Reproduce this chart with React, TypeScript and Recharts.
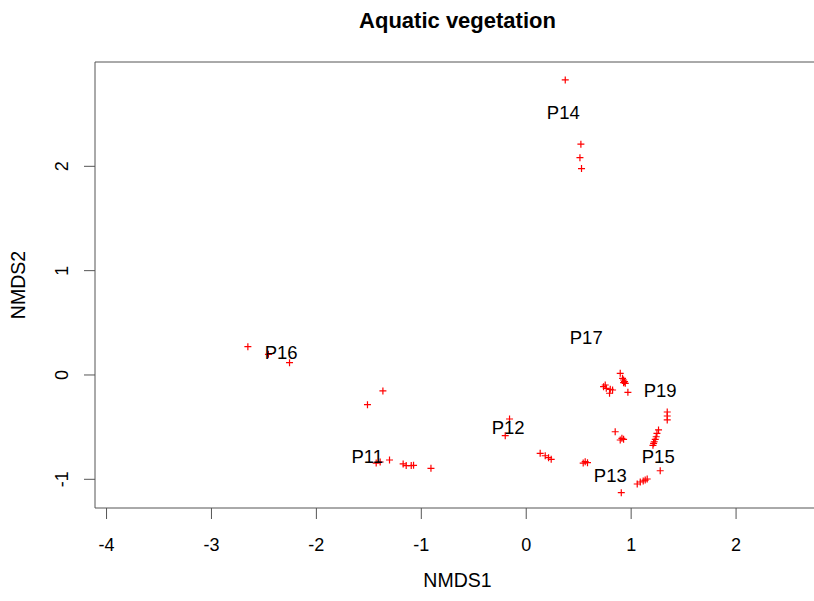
import React from 'react';
import { ScatterChart, Scatter, XAxis, YAxis, ReferenceArea } from 'recharts';

// site scores, grouped by plot id
const p14 = [[0.372, 2.828], [0.521, 2.212], [0.512, 2.083], [0.527, 1.978]];
const p16 = [[-2.653, 0.271], [-2.457, 0.198], [-2.256, 0.118]];
const p11 = [
  [-1.366, -0.153], [-1.513, -0.285], [-1.43, -0.844], [-1.392, -0.834],
  [-1.303, -0.815], [-1.173, -0.853], [-1.144, -0.868], [-1.096, -0.868],
  [-1.074, -0.866], [-0.908, -0.895],
];
const p12 = [
  [-0.159, -0.422], [-0.2, -0.582], [0.133, -0.751], [0.181, -0.774],
  [0.213, -0.793], [0.238, -0.808],
];
const p19 = [
  [0.896, 0.016], [0.918, -0.032], [0.928, -0.048], [0.937, -0.064],
  [0.944, -0.08], [0.928, -0.074], [0.753, -0.096], [0.737, -0.112],
  [0.763, -0.128], [0.801, -0.137], [0.823, -0.144], [0.794, -0.175],
  [0.969, -0.166], [1.344, -0.355], [1.344, -0.393], [1.344, -0.431],
];
const p15 = [
  [1.261, -0.527], [1.246, -0.559], [1.239, -0.592], [1.23, -0.617],
  [1.22, -0.64], [1.214, -0.655], [1.208, -0.674], [0.848, -0.544],
  [0.912, -0.607], [0.896, -0.623], [0.928, -0.617], [1.277, -0.918],
];
const p13 = [
  [0.543, -0.844], [0.562, -0.831], [0.584, -0.841], [1.058, -1.045],
  [1.087, -1.026], [1.115, -1.016], [1.134, -1.007], [1.153, -0.997],
  [0.906, -1.128],
];

const labelNames = ['P14', 'P16', 'P11', 'P12', 'P17', 'P19', 'P15', 'P13'];
const labelX = [0.353, -2.336, -1.516, -0.172, 0.572, 1.277, 1.258, 0.801];
const labelY = [2.52, 0.22, -0.786, -0.508, 0.355, -0.153, -0.786, -0.968];

const xTicks = [-4, -3, -2, -1, 0, 1, 2];
const yTicks = [-1, 0, 1, 2];
const X_DOMAIN: [number, number] = [-4.11, 2.8];
const Y_DOMAIN: [number, number] = [-1.275, 3.0];

const FONT = '"Liberation Sans", Arial, sans-serif';

const points = [...p14, ...p16, ...p11, ...p12, ...p19, ...p15, ...p13].map(([x, y]) => ({ x, y }));
const labels = labelNames.map((name, i) => ({ x: labelX[i], y: labelY[i], name }));

// red "+" like R's pch = 3
const Cross = (props: any) => {
  const { cx, cy } = props;
  if (cx == null || cy == null) return null;
  const r = 3.5;
  return (
    <path
      d={`M${cx - r},${cy}H${cx + r}M${cx},${cy - r}V${cy + r}`}
      stroke="#ff0000"
      strokeWidth={1.2}
      fill="none"
    />
  );
};

const SiteLabel = (props: any) => {
  const { cx, cy, payload } = props;
  if (cx == null || cy == null) return null;
  return (
    <text
      x={cx}
      y={cy}
      dy={6.5}
      textAnchor="middle"
      fontFamily={FONT}
      fontSize={18.5}
      fill="#000"
    >
      {payload.name}
    </text>
  );
};

const XTick = (props: any) => {
  const { x, payload } = props;
  return (
    <text x={x} y={551} textAnchor="middle" fontFamily={FONT} fontSize={18} fill="#000">
      {payload.value}
    </text>
  );
};

const YTick = (props: any) => {
  const { y, payload } = props;
  return (
    <text
      x={68}
      y={y}
      transform={`rotate(-90, 68, ${y})`}
      textAnchor="middle"
      fontFamily={FONT}
      fontSize={18}
      fill="#000"
    >
      {payload.value}
    </text>
  );
};

export default function App() {
  return (
    <div
      style={{
        position: 'absolute',
        left: 0,
        top: 0,
        width: 814,
        height: 601,
        overflow: 'hidden',
        background: '#fff',
        fontFamily: FONT,
      }}
    >
      <ScatterChart width={830} height={601} margin={{ top: 62, right: 10, bottom: 0, left: 0 }}>
        <XAxis
          type="number"
          dataKey="x"
          domain={X_DOMAIN}
          ticks={xTicks}
          allowDataOverflow
          height={93}
          axisLine={false}
          tickSize={11}
          tickLine={{ stroke: '#555' }}
          tick={<XTick />}
        />
        <YAxis
          type="number"
          dataKey="y"
          domain={Y_DOMAIN}
          ticks={yTicks}
          allowDataOverflow
          width={95}
          axisLine={false}
          tickSize={11}
          tickLine={{ stroke: '#555' }}
          tick={<YTick />}
        />
        <ReferenceArea
          x1={X_DOMAIN[0]}
          x2={X_DOMAIN[1]}
          y1={Y_DOMAIN[0]}
          y2={Y_DOMAIN[1]}
          fill="none"
          stroke="#555"
          strokeWidth={1}
          ifOverflow="visible"
        />
        <Scatter data={points} shape={<Cross />} isAnimationActive={false} />
        <Scatter data={labels} shape={<SiteLabel />} isAnimationActive={false} />
      </ScatterChart>
      <div
        style={{
          position: 'absolute',
          left: 95,
          width: 725,
          top: 8,
          textAlign: 'center',
          fontSize: 22,
          fontWeight: 'bold',
          color: '#000',
        }}
      >
        Aquatic vegetation
      </div>
      <div
        style={{
          position: 'absolute',
          left: 95,
          width: 725,
          top: 569,
          textAlign: 'center',
          fontSize: 19.5,
          color: '#000',
        }}
      >
        NMDS1
      </div>
      <div
        style={{
          position: 'absolute',
          left: 18 - 60,
          top: 285 - 12,
          width: 120,
          height: 24,
          lineHeight: '24px',
          textAlign: 'center',
          fontSize: 19.5,
          color: '#000',
          transform: 'rotate(-90deg)',
        }}
      >
        NMDS2
      </div>
    </div>
  );
}
